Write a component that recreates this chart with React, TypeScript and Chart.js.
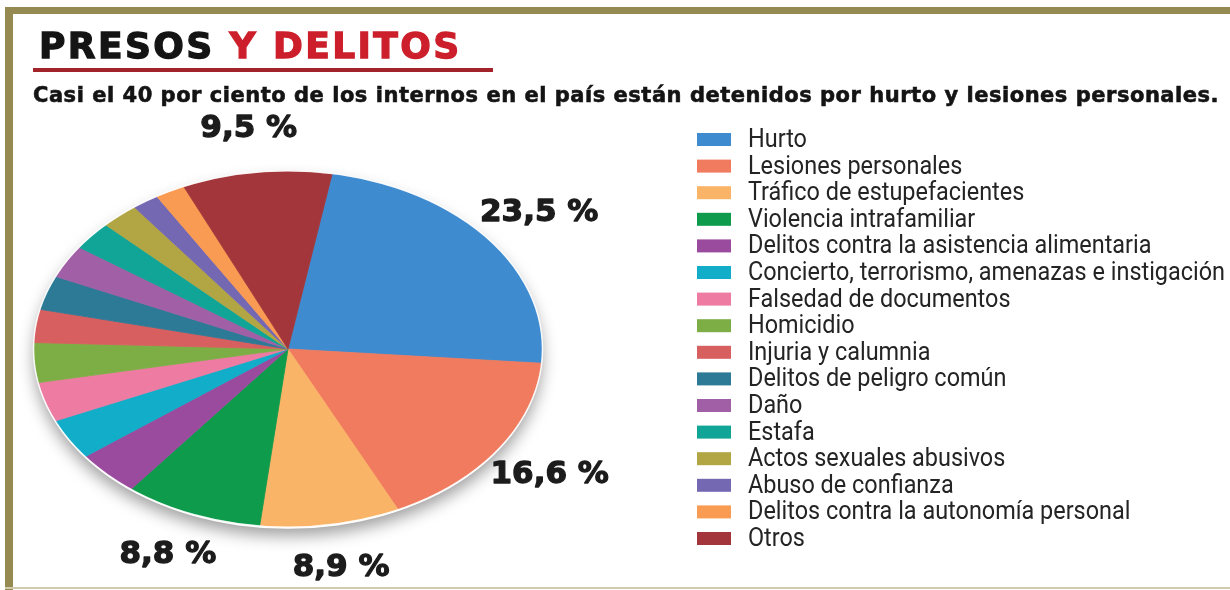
import React, { useEffect, useRef } from "react";
import { Chart, registerables } from "chart.js";

Chart.register(...registerables);

// ---------- data ----------
const categories = [
  "Hurto",
  "Lesiones personales",
  "Tráfico de estupefacientes",
  "Violencia intrafamiliar",
  "Delitos contra la asistencia alimentaria",
  "Concierto, terrorismo, amenazas e instigación",
  "Falsedad de documentos",
  "Homicidio",
  "Injuria y calumnia",
  "Delitos de peligro común",
  "Daño",
  "Estafa",
  "Actos sexuales abusivos",
  "Abuso de confianza",
  "Delitos contra la autonomía personal",
  "Otros",
];
const values = [23.5, 16.6, 8.9, 8.8, 4.1, 3.7, 3.6, 3.6, 3.0, 3.1, 3.0, 2.6, 2.4, 1.7, 1.9, 9.5];
const labeledIndexes = [0, 1, 2, 3, 15];
const colors = [
  "#3F8BD0",
  "#F07B5E",
  "#F9B468",
  "#0E9B4B",
  "#9A4B9E",
  "#12ADC8",
  "#EE7BA2",
  "#7DAE45",
  "#D85F60",
  "#2D7A96",
  "#A15FA5",
  "#10A597",
  "#B2A543",
  "#7568B3",
  "#F99B53",
  "#A3363A",
];

const TITLE_BLACK = "PRESOS ";
const TITLE_RED = "Y DELITOS";
const SUBTITLE = "Casi el 40 por ciento de los internos en el país están detenidos por hurto y lesiones personales.";

// ---------- layout ----------
const W = 1230;
const H = 590;
const PIE_RADIUS = 254;
const TILT = 0.7;
const START_ANGLE = 10;

const fmt = (v: number) => v.toFixed(1).replace(".", ",") + " %";

const tiltPlugin = {
  id: "tilt",
  beforeDatasetsDraw(chart: any) {
    const arc = chart.getDatasetMeta(0).data[0];
    if (!arc) return;
    const { x, y, outerRadius } = arc.getProps(["x", "y", "outerRadius"], true);
    const ctx = chart.ctx;
    ctx.save();
    ctx.beginPath();
    ctx.ellipse(x, y + 2, outerRadius, outerRadius * TILT, 0, 0, Math.PI * 2);
    ctx.shadowColor = "rgba(0,0,0,0.38)";
    ctx.shadowBlur = 16;
    ctx.shadowOffsetY = 7;
    ctx.fillStyle = "#ffffff";
    ctx.fill();
    ctx.restore();
    ctx.save();
    ctx.translate(x, y);
    ctx.scale(1, TILT);
    ctx.translate(-x, -y);
  },
  afterDatasetsDraw(chart: any) {
    const arc = chart.getDatasetMeta(0).data[0];
    if (!arc) return;
    const ctx = chart.ctx;
    ctx.restore();
    const { x, y, outerRadius } = arc.getProps(["x", "y", "outerRadius"], true);
    ctx.save();
    ctx.beginPath();
    ctx.ellipse(x, y, outerRadius + 0.5, outerRadius * TILT + 0.5, 0, 0, Math.PI * 2);
    ctx.strokeStyle = "rgba(255,255,255,0.9)";
    ctx.lineWidth = 1.5;
    ctx.stroke();
    ctx.restore();
  },
};

const labelPlugin = {
  id: "pctLabels",
  afterDraw(chart: any) {
    const meta = chart.getDatasetMeta(0);
    const ctx = chart.ctx;
    ctx.save();
    ctx.font = "bold 31px 'DejaVu Sans'";
    ctx.fillStyle = "#1c1c1c";
    ctx.strokeStyle = "#1c1c1c";
    ctx.lineWidth = 1.3;
    ctx.lineJoin = "round";
    ctx.textAlign = "center";
    ctx.textBaseline = "middle";
    labeledIndexes.forEach((i) => {
      const arc = meta.data[i];
      const { x, y, startAngle, endAngle, outerRadius } = arc.getProps(
        ["x", "y", "startAngle", "endAngle", "outerRadius"],
        true
      );
      const mid = (startAngle + endAngle) / 2;
      const f = 1.25;
      const lx = x + Math.cos(mid) * outerRadius * f;
      const ly = y + Math.sin(mid) * outerRadius * TILT * f;
      ctx.fillText(fmt(values[i]), lx, ly);
      ctx.strokeText(fmt(values[i]), lx, ly);
    });
    ctx.restore();
  },
};

const LEG_X = 697;
const LEG_TEXT_X = 748;
const LEG_BASE0 = 147;
const LEG_STEP = 26.6;
const LEG_TEXT_MAXW = 477;

const legendPlugin = {
  id: "sideLegend",
  afterDraw(chart: any) {
    const ctx = chart.ctx;
    const labels: string[] = chart.data.labels;
    const bg: string[] = chart.data.datasets[0].backgroundColor;
    ctx.save();
    ctx.font = "26px Roboto";
    const maxW = Math.max(...labels.map((l) => ctx.measureText(l).width));
    const sx = Math.min(1, LEG_TEXT_MAXW / maxW);
    labels.forEach((l, i) => {
      const base = LEG_BASE0 + i * LEG_STEP;
      ctx.fillStyle = bg[i];
      ctx.fillRect(LEG_X, base - 14, 34, 13);
      ctx.save();
      ctx.translate(LEG_TEXT_X, base);
      ctx.scale(sx, 1);
      ctx.fillStyle = "#242424";
      ctx.textAlign = "left";
      ctx.textBaseline = "alphabetic";
      ctx.fillText(l, 0, 0);
      ctx.restore();
    });
    ctx.restore();
  },
};

export default function App() {
  const ref = useRef<HTMLCanvasElement>(null);

  useEffect(() => {
    const canvas = ref.current;
    if (!canvas) return;
    const chart = new Chart(canvas, {
      type: "pie",
      data: {
        labels: categories,
        datasets: [
          {
            data: values,
            backgroundColor: colors,
            borderColor: colors,
            borderWidth: 1,
            radius: PIE_RADIUS,
            rotation: START_ANGLE,
            clip: false,
          } as any,
        ],
      },
      options: {
        responsive: false,
        animation: false,
        events: [],
        layout: { padding: { left: 30, right: 684, top: 200, bottom: 92 } },
        plugins: {
          legend: { display: false },
          tooltip: { enabled: false },
          title: { display: false },
        },
      },
      plugins: [tiltPlugin, labelPlugin, legendPlugin],
    });
    return () => chart.destroy();
  }, []);

  return (
    <div
      style={{
        position: "fixed",
        left: 0,
        top: 0,
        width: W,
        height: H,
        background: "#ffffff",
        overflow: "hidden",
      }}
    >
      <canvas
        ref={ref}
        width={W}
        height={H}
        style={{ position: "absolute", left: 0, top: 0, width: W, height: H, display: "block" }}
      />
      {/* frame */}
      <div style={{ position: "absolute", left: 5, top: 7, width: W - 5, height: 7, background: "#968A53" }} />
      <div style={{ position: "absolute", left: 5, top: 7, width: 8, height: H - 7, background: "#968A53" }} />
      <div style={{ position: "absolute", left: 5, top: 587, width: W - 5, height: 2, background: "#D2CCAE" }} />
      {/* title */}
      <div
        style={{
          position: "absolute",
          left: 39,
          top: 28,
          fontFamily: "'DejaVu Sans', sans-serif",
          fontWeight: 900,
          fontSize: 36,
          lineHeight: "36px",
          whiteSpace: "nowrap",
          letterSpacing: 2.4,
        }}
      >
        <span style={{ color: "#141414", WebkitTextStroke: "1.3px #141414" }}>{TITLE_BLACK}</span>
        <span style={{ color: "#CC1F2B", WebkitTextStroke: "1.3px #CC1F2B" }}>{TITLE_RED}</span>
      </div>
      <div style={{ position: "absolute", left: 33, top: 68, width: 460, height: 4, background: "#A3232B" }} />
      {/* subtitle */}
      <div
        style={{
          position: "absolute",
          left: 33,
          top: 85,
          fontFamily: "'DejaVu Sans', sans-serif",
          fontWeight: 700,
          fontSize: 21,
          lineHeight: "21px",
          whiteSpace: "nowrap",
          letterSpacing: 0.52,
          color: "#141414",
          WebkitTextStroke: "0.6px #141414",
        }}
      >
        {SUBTITLE}
      </div>
    </div>
  );
}
